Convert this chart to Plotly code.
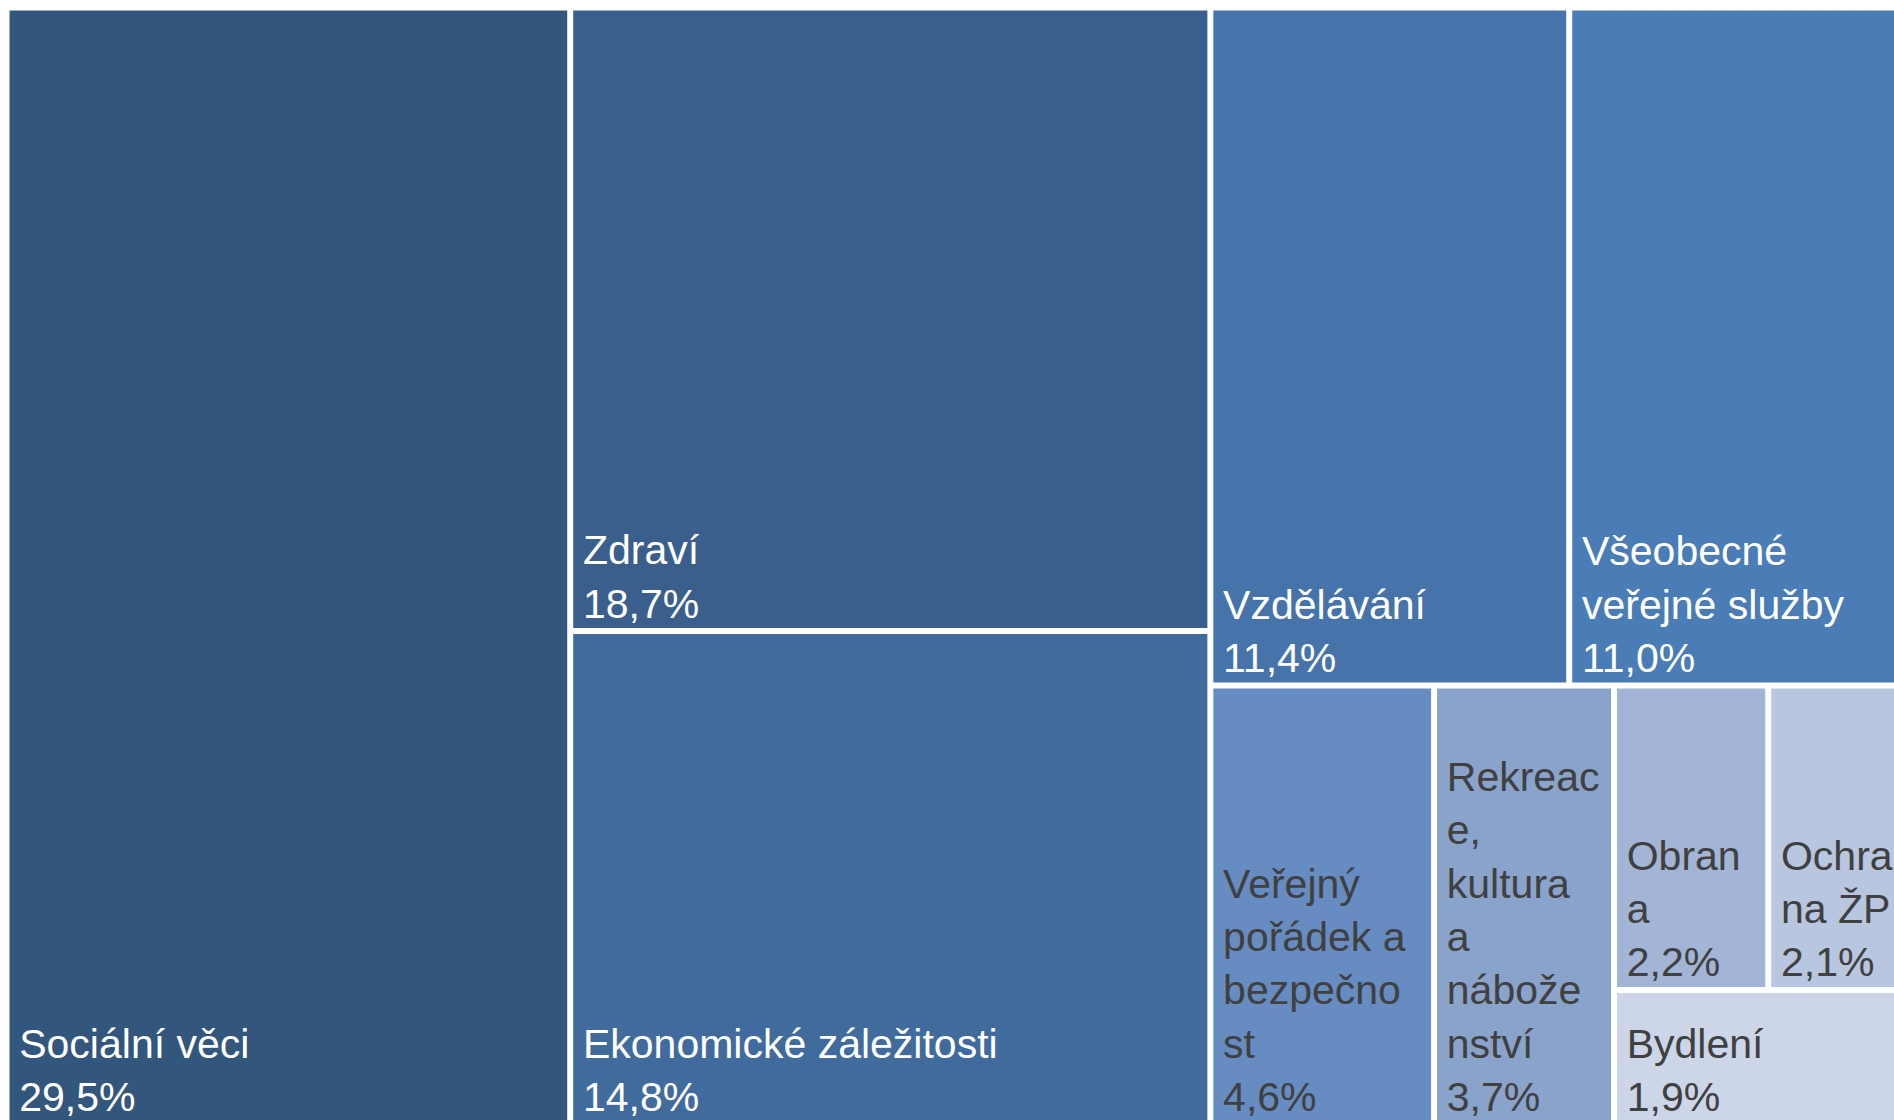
import plotly.graph_objects as go

# podíly výdajů vládního sektoru podle funkcí (%)
categories = [
    "Sociální věci",
    "Zdraví",
    "Ekonomické záležitosti",
    "Vzdělávání",
    "Všeobecné veřejné služby",
    "Veřejný pořádek a bezpečnost",
    "Rekreace, kultura a náboženství",
    "Obrana",
    "Ochrana ŽP",
    "Bydlení",
]
shares = [29.5, 18.7, 14.8, 11.4, 11.0, 4.6, 3.7, 2.2, 2.1, 1.9]

# labels as they wrap inside the tiles
wrapped = [
    "Sociální věci",
    "Zdraví",
    "Ekonomické záležitosti",
    "Vzdělávání",
    "Všeobecné<br>veřejné služby",
    "Veřejný<br>pořádek a<br>bezpečno<br>st",
    "Rekreac<br>e,<br>kultura<br>a<br>nábože<br>nství",
    "Obran<br>a",
    "Ochra<br>na ŽP",
    "Bydlení",
]

tile_colors = [
    "#33567c", "#3b5f8d", "#416b9d", "#4673aa", "#4a7db5",
    "#668cc2", "#8aa3cb", "#a3b5d6", "#b8c6df", "#cdd6e8",
]
text_colors = ["white"] * 5 + ["#404040"] * 5

# invisible grouping so slice-dice tiling gives the same arrangement
children = {
    "": ["Sociální věci", "zdr_eko", "vpravo"],
    "zdr_eko": ["Zdraví", "Ekonomické záležitosti"],
    "vpravo": ["horni", "dolni"],
    "horni": ["Vzdělávání", "Všeobecné veřejné služby"],
    "dolni": ["Veřejný pořádek a bezpečnost", "Rekreace, kultura a náboženství", "male"],
    "male": ["obr_och", "Bydlení"],
    "obr_och": ["Obrana", "Ochrana ŽP"],
}

leaf = {c: i for i, c in enumerate(categories)}
ids, parents, values, texts, colors, fcolors, templates = [], [], [], [], [], [], []


def walk(parent):
    for node in children[parent]:
        ids.append(node)
        parents.append(parent)
        if node in leaf:
            i = leaf[node]
            values.append(shares[i])
            texts.append("\u2009" + wrapped[i].replace("<br>", "<br>\u2009"))
            colors.append(tile_colors[i])
            fcolors.append(text_colors[i])
            templates.append("%{text}<br>\u2009%{value:.1f}%")
        else:
            values.append(0)
            texts.append("")
            colors.append("white")
            fcolors.append("white")
            templates.append("")
            walk(node)


walk("")

fig = go.Figure(
    go.Treemap(
        ids=ids,
        labels=ids,
        parents=parents,
        values=values,
        branchvalues="remainder",
        text=texts,
        texttemplate=templates,
        textposition="bottom left",
        textfont=dict(family="Liberation Sans, Arial", size=41, color=fcolors),
        marker=dict(
            colors=colors,
            line=dict(color="white", width=3),
            pad=dict(t=0, l=0, r=0, b=0),
            depthfade=False,
        ),
        sort=False,
        tiling=dict(packing="slice-dice"),
        pathbar=dict(visible=False),
        hoverinfo="label+value",
    )
)

fig.update_layout(
    width=1914,
    height=1123,
    margin=dict(l=8, r=0, t=9, b=0),
    separators=", ",
    uniformtext=dict(minsize=41, mode="show"),
    paper_bgcolor="white",
)

# the chart runs past the window edge: no page margin, no scrollbars
page_css = (
    "document.body.style.margin='0';"
    "document.documentElement.style.overflow='hidden';"
    "document.body.style.overflow='hidden';"
)
fig.write_html("out.html", post_script=page_css, config={"displayModeBar": False})
